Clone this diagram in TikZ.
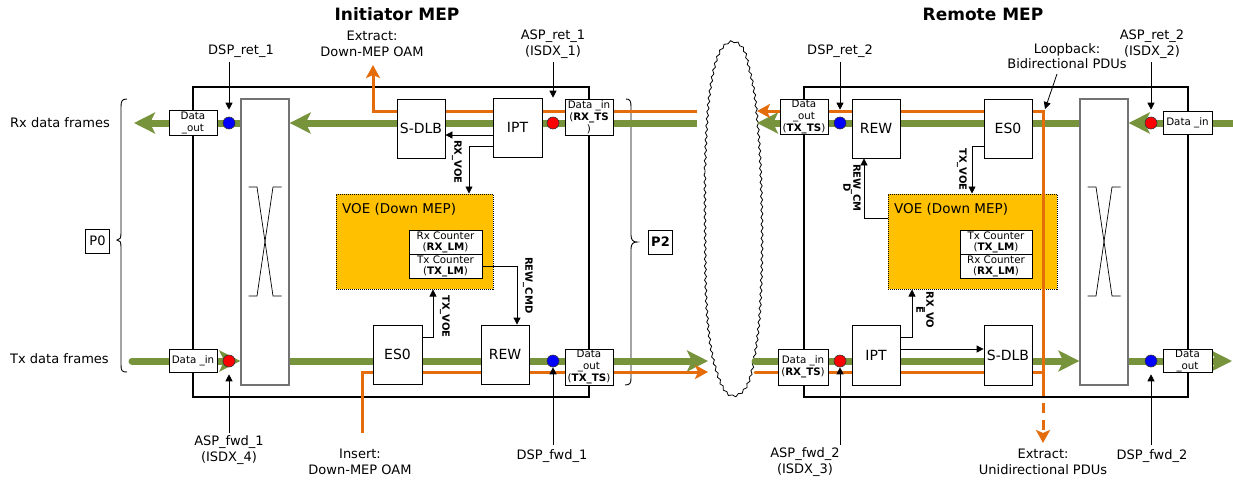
\documentclass[tikz,border=0pt]{standalone}
\usepackage{fontspec}
\setmainfont{DejaVu Sans}
\usetikzlibrary{arrows.meta,decorations.pathmorphing,calc}
\definecolor{mygreen}{RGB}{119,147,60}
\definecolor{myorange}{RGB}{228,108,10}
\definecolor{mygold}{RGB}{255,192,0}
\definecolor{myblue}{RGB}{0,0,255}
\definecolor{myred}{RGB}{255,0,0}
\begin{document}
\begin{tikzpicture}[x=1pt,y=-1pt,
 outer/.style={draw, line width=1.3pt, inner sep=0},
 xbar/.style={draw=black!55, fill=white, line width=1.3pt, inner sep=0, minimum width=48pt, minimum height=286pt},
 voe/.style={draw, densely dotted, line width=1pt, fill=mygold, inner sep=0},
 voet/.style={font=\fontsize{13.5}{15}\selectfont, inner sep=0},
 blk/.style={draw, fill=white, line width=0.8pt, inner sep=0, minimum width=48pt, minimum height=59pt, font=\fontsize{14}{16}\selectfont},
 dbox/.style={draw, fill=white, line width=0.7pt, inner sep=0, align=center, minimum width=48pt, font=\fontsize{10.3}{12}\selectfont},
 cnt/.style={draw, fill=white, line width=0.8pt, inner sep=0, align=center, minimum width=73pt, minimum height=24pt, font=\fontsize{10.3}{11}\selectfont},
 lbl/.style={font=\fontsize{13}{15.5}\selectfont, align=center, inner sep=0},
 ttl/.style={font=\fontsize{17}{20}\selectfont\bfseries, inner sep=0},
 vlab/.style={font=\fontsize{10}{10}\selectfont\bfseries, rotate=-90, inner sep=0, align=center},
 conn/.style={line width=0.8pt, -{Triangle[length=7pt,width=7pt]}},
 grn/.style={draw=mygreen, line width=7pt, -{Stealth[length=21pt,width=21pt,inset=5pt]}},
 org/.style={draw=myorange, line width=3pt},
 orgarr/.style={org, -{Stealth[length=13pt,width=14pt,inset=3pt]}},
 dotb/.style={circle, draw=black!80, fill=myblue, minimum size=12pt, inner sep=0, line width=0.6pt},
 dotr/.style={dotb, fill=myred},
 pbox/.style={draw, line width=0.8pt, minimum width=24pt, minimum height=24pt, inner sep=0, font=\fontsize{13}{15}\selectfont},
 brace/.style={line width=0.9pt},
 cloudl/.style={line width=0.8pt, decorate, decoration={snake, segment length=7pt, amplitude=1pt}}
]
\fill[white] (0,0) rectangle (1233,480);
\useasboundingbox (0,0) rectangle (1233,480);

% titles
\node[ttl] (t1) at (397,14) {Initiator MEP};
\node[ttl] (t2) at (983,14) {Remote MEP};

% outer boxes
\node[outer, minimum width=396pt, minimum height=310pt] (mep1) at (391,242) {};
\node[outer, minimum width=384pt, minimum height=310pt] (mep2) at (996,242) {};

% VOE
\node[voe, minimum width=157pt, minimum height=95pt] (voe1) at (414.5,241.5) {};
\node[voe, minimum width=169pt, minimum height=95pt] (voe2) at (972.5,241.5) {};
\node[voet, anchor=west] (voet1) at (342,209) {VOE (Down MEP)};
\node[voet, anchor=west] (voet2) at (894,209) {VOE (Down MEP)};

% crossbars
\node[xbar] (xb1) at (265,242) {};
\node[xbar] (xb2) at (1104,242) {};
\foreach \c in {265,1104} {
  \draw[line width=0.7pt] (\c-16.5,187) -- (\c-8,187) -- (\c+8,296) -- (\c+16.5,296);
  \draw[line width=0.7pt] (\c+16.5,187) -- (\c+8,187) -- (\c-8,296) -- (\c-16.5,296);
}

% cloud
\draw[cloudl] plot[smooth cycle, tension=0.6] coordinates {(705,240) (705,170) (708,110) (713,75) (719,55) (727,45) (736,44) (744,52) (749,70) (755,100) (760,160) (762,240) (760,310) (755,355) (748,385) (737,397) (726,394) (717,375) (710,345) (706,300)};

% braces
\draw[brace] (127,99) .. controls (122,99) and (121,101) .. (121,107) -- (121,233) .. controls (121,238) and (120,240) .. (117,240) .. controls (120,240) and (121,242) .. (121,247) -- (121,365) .. controls (121,371) and (122,372) .. (127,372);
\draw[brace] (626,99) .. controls (630,99) and (631,101) .. (631,107) -- (631,235) .. controls (631,240) and (633,242) .. (637,242) .. controls (633,242) and (631,244) .. (631,249) -- (631,378) .. controls (631,383) and (630,385) .. (625,385);
\node[pbox] (p0) at (97.5,241) {P0};
\node[pbox, font=\fontsize{13}{15}\selectfont\bfseries] (p2) at (660.5,242) {P2};

% left flows
\coordinate (rxin1) at (697,123);
\coordinate (rxout1) at (134,123);
\draw[grn] (rxin1) -- (xb1.east |- rxin1);
\draw[grn] (xb1.west |- rxin1) -- (rxout1);
\coordinate (txin1) at (132,361);
\coordinate (txout1) at (708,361);
\draw[grn, line cap=round] (txin1) -- (xb1.west |- txin1);
\draw[grn] (xb1.east |- txin1) -- (txout1);
\coordinate (oin1) at (697,111);
\coordinate (oext1) at (373,65);
\draw[orgarr] (oin1) -| (oext1);
\coordinate (oins1) at (362,433);
\coordinate (oout1) at (708,372);
\draw[orgarr] (oins1) |- (oout1);

% right flows
\coordinate (rxin2) at (1233,123);
\coordinate (rxout2) at (757,123);
\draw[grn] (rxin2) -- (xb2.east |- rxin2);
\draw[grn] (xb2.west |- rxin2) -- (rxout2);
\coordinate (txin2) at (755,361);
\coordinate (txout2) at (1232,361);
\draw[grn, line cap=round] (txin2) -- (xb2.west |- txin2);
\draw[grn] (xb2.east |- txin2) -- (txout2);
\coordinate (oin2) at (755,372);
\coordinate (lb) at (1043,372);
\coordinate (lbt) at (1043,111);
\coordinate (oout2) at (757,111);
\coordinate (lbd) at (1043,386);
\coordinate (ext2) at (1043,443);
\draw[orgarr, line cap=round] (oin2) -- (lb) -- (lbt) -- (oout2);
\draw[org] (lb) -- (lbd);
\draw[orgarr, dash pattern=on 10pt off 7pt] (lbd) -- (ext2);

% left blocks
\node[blk] (sdlb1) at (421,128.5) {S-DLB};
\node[blk, minimum width=49pt] (ipt1) at (517.5,127.5) {IPT};
\node[blk, minimum width=49pt] (es01) at (397.5,354.5) {ES0};
\node[blk] (rew1) at (505,354.5) {REW};
\node[dbox, minimum height=25pt] (dout1) at (193,122.5) {Data\\\_out};
\node[dbox, minimum height=23pt] (din1) at (193,360.5) {Data \_in};
\node[dbox, minimum height=36pt] (din1ts) at (589,117) {Data \_in\\(\textbf{RX\_TS}\\)};
\node[dbox, minimum height=36pt] (dout1ts) at (589,367) {Data\\\_out\\(\textbf{TX\_TS})};
\node[cnt] (cnt1a) at (445.5,242) {Rx Counter\\(\textbf{RX\_LM})};
\node[cnt] (cnt1b) at (445.5,266) {Tx Counter\\(\textbf{TX\_LM})};

% right blocks
\node[dbox, minimum height=35pt] (dout2ts) at (804,116.5) {Data\\\_out\\(\textbf{TX\_TS})};
\node[blk] (rew2) at (876,128.5) {REW};
\node[blk] (es02) at (1008,128.5) {ES0};
\node[dbox, minimum width=49pt, minimum height=23pt] (din2) at (1187.5,122.5) {Data \_in};
\node[cnt, minimum width=72pt] (cnt2a) at (996,242) {Tx Counter\\(\textbf{TX\_LM})};
\node[cnt, minimum width=72pt] (cnt2b) at (996,266) {Rx Counter\\(\textbf{RX\_LM})};
\node[dbox, minimum width=50pt, minimum height=36pt] (din2ts) at (803,367) {Data \_in\\(\textbf{RX\_TS})};
\node[blk, minimum height=60pt] (ipt2) at (876,355) {IPT};
\node[blk, minimum height=60pt] (sdlb2) at (1008,355) {S-DLB};
\node[dbox, minimum width=49pt, minimum height=23pt] (dout2) at (1187.5,360.5) {Data\\\_out};

% dots
\node[dotb] (bd1) at (229,123) {};
\node[dotr] (rd1) at (553,123) {};
\node[dotr] (rd3) at (229,361) {};
\node[dotb] (bd3) at (553,361) {};
\node[dotb] (bd2) at (840,123) {};
\node[dotr] (rd2) at (1151,123) {};
\node[dotr] (rd4) at (840,361) {};
\node[dotb] (bd4) at (1151,361) {};

% internal connectors
\draw[conn] (ipt1.west |- 0,135) -- (sdlb1.east |- 0,135);
\draw[conn] (ipt1.west |- 0,146) -| (voe1.north -| 469,0);
\draw[conn] (cnt1b.east) -| (rew1.north -| 517,0);
\draw[conn] (es01.east |- 0,337) -| (voe1.south -| 433,0);
\draw[conn] (voe2.west |- 0,218) -| (rew2.south -| 864,0);
\draw[conn] (es02.west |- 0,146) -| (voe2.north -| 972,0);
\draw[conn] (ipt2.east |- 0,337) -| (voe2.south -| 912,0);
\draw[conn] (ipt2.east |- 0,349) -- (sdlb2.west |- 0,349);

% rotated labels
\node[vlab, anchor=west] (vl1) at (457,140) {RX\_VOE};
\node[vlab, anchor=west] (vl2) at (528,257) {REW\_CMD};
\node[vlab, anchor=west] (vl3) at (445,295) {TX\_VOE};
\node[vlab, anchor=west] (vl4) at (962,148) {TX\_VOE};
\node[vlab] (vl5) at (852,188) {REW\_CM\\D};
\node[vlab] (vl6) at (925,310) {RX\_VO\\E};

% outer labels
\node[lbl, anchor=west] (rxf) at (10,123) {Rx data frames};
\node[lbl, anchor=west] (txf) at (10,359) {Tx data frames};
\node[lbl] (ext1) at (372,44) {Extract:\\Down-MEP OAM};
\node[lbl] (dspr1) at (241,51) {DSP\_ret\_1};
\node[lbl] (aspr1) at (553,44) {ASP\_ret\_1\\(ISDX\_1)};
\node[lbl] (dspr2) at (840,51) {DSP\_ret\_2};
\node[lbl] (loop) at (1067,56) {Loopback:\\Bidirectional PDUs};
\node[lbl] (aspr2) at (1152,44) {ASP\_ret\_2\\(ISDX\_2)};
\node[lbl] (aspf1) at (229,450) {ASP\_fwd\_1\\(ISDX\_4)};
\node[lbl] (ins1) at (360,462) {Insert:\\Down-MEP OAM};
\node[lbl] (dspf1) at (552,456) {DSP\_fwd\_1};
\node[lbl] (aspf2) at (805,462) {ASP\_fwd\_2\\(ISDX\_3)};
\node[lbl] (extu) at (1043,462) {Extract:\\Unidirectional PDUs};
\node[lbl] (dspf2) at (1152,456) {DSP\_fwd\_2};

% label arrows
\draw[conn, shorten <=4pt] (bd1.north |- dspr1.south) -- ([yshift=7pt]bd1.north);
\draw[conn, shorten <=4pt] (rd1.north |- aspr1.south) -- ([yshift=19pt]rd1.north);
\draw[conn, shorten <=4pt] (bd2.north |- dspr2.south) -- ([yshift=7pt]bd2.north);
\draw[conn, shorten <=4pt] (rd2.north |- aspr2.south) -- ([yshift=7pt]rd2.north);
\draw[conn] ([xshift=-10pt,yshift=-5pt]loop.south) -- ([xshift=2pt,yshift=2pt]lbt);
\draw[conn, shorten <=3pt] (rd3.south |- aspf1.north) -- ([yshift=-7pt]rd3.south);
\draw[conn, shorten <=4pt] (bd3.south |- dspf1.north) -- (bd3.south);
\draw[conn, shorten <=3pt] (rd4.south |- aspf2.north) -- (rd4.south);
\draw[conn, shorten <=4pt] (bd4.south |- dspf2.north) -- ([yshift=-7pt]bd4.south);
\end{tikzpicture}
\end{document}
